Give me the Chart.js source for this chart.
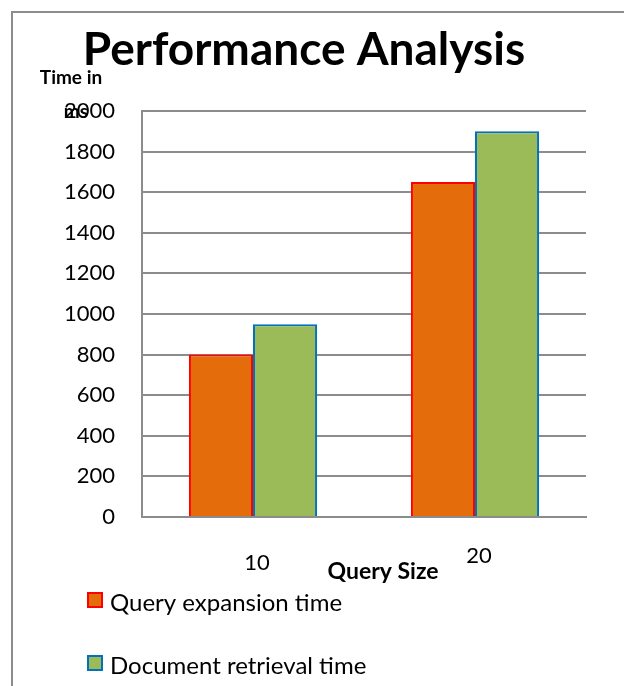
<!DOCTYPE html>
<html>
<head>
<meta charset="utf-8">
<script src="https://cdn.jsdelivr.net/npm/chart.js@4/dist/chart.umd.min.js"></script>
<style>
  html, body { margin: 0; padding: 0; background: #fff; }
  #wrap { position: relative; width: 624px; height: 686px; }
</style>
</head>
<body>
<div id="wrap"><canvas id="c" width="624" height="686"></canvas></div>
<script>
// Query sizes on the x axis
const categories = ['10', '20'];
// Timings in ms
const queryExpansion = [800, 1650];
const documentRetrieval = [950, 1900];
const yTicks = [0, 200, 400, 600, 800, 1000, 1200, 1400, 1600, 1800, 2000];

const chartTitle = 'Performance Analysis';
const yTitle = ['Time in', 'ms'];
const xTitle = 'Query Size';
const seriesNames = ['Query expansion time', 'Document retrieval time'];

const FONT = 'Lato, "Open Sans", sans-serif';

// Frame, headings, staggered category labels and stacked legend
const decorations = {
  id: 'decorations',
  beforeDraw(chart) {
    const ctx = chart.ctx;
    ctx.save();
    ctx.fillStyle = '#fff';
    ctx.fillRect(0, 0, chart.width, chart.height);
    ctx.strokeStyle = '#8c8c8c';
    ctx.lineWidth = 2;
    ctx.beginPath();
    ctx.moveTo(12, chart.height);
    ctx.lineTo(12, 12);
    ctx.lineTo(chart.width, 12);
    ctx.stroke();
    ctx.restore();
  },
  afterDraw(chart) {
    const ctx = chart.ctx;
    const area = chart.chartArea;
    const x = chart.scales.x;
    ctx.save();
    ctx.fillStyle = '#000';
    ctx.textBaseline = 'alphabetic';

    // main title
    ctx.font = 'bold 46px ' + FONT;
    ctx.textAlign = 'center';
    ctx.fillText(chartTitle, 304, 65);

    // value axis title, two horizontal lines
    ctx.font = 'bold 19px ' + FONT;
    ctx.fillText(yTitle[0], 71, 84);
    ctx.fillText(yTitle[1], 76, 118);

    // category labels (second one sits higher)
    ctx.font = '22px ' + FONT;
    const baselines = [53, 46];
    categories.forEach((c, i) => {
      ctx.fillText(c, x.getPixelForValue(i) + 4, area.bottom + baselines[i]);
    });

    // category axis title
    ctx.font = 'bold 23px ' + FONT;
    ctx.fillText(xTitle, 383, area.bottom + 62);

    // legend
    ctx.textAlign = 'left';
    ctx.font = '24px ' + FONT;
    chart.data.datasets.forEach((ds, i) => {
      const top = 593 + i * 63;
      ctx.fillStyle = ds.backgroundColor;
      ctx.fillRect(88, top, 14, 14);
      ctx.strokeStyle = ds.borderColor;
      ctx.lineWidth = 2;
      ctx.strokeRect(88, top, 14, 14);
      ctx.fillStyle = '#000';
      ctx.fillText(seriesNames[i], 110, top + 18);
    });
    ctx.restore();
  }
};

new Chart(document.getElementById('c'), {
  type: 'bar',
  data: {
    labels: categories,
    datasets: [
      {
        label: seriesNames[0],
        data: queryExpansion,
        backgroundColor: '#E46C0A',
        borderColor: '#FF0000',
        borderWidth: 2,
        borderSkipped: 'bottom'
      },
      {
        label: seriesNames[1],
        data: documentRetrieval,
        backgroundColor: '#9BBB59',
        borderColor: '#0070C0',
        borderWidth: 2,
        borderSkipped: 'bottom'
      }
    ]
  },
  options: {
    responsive: false,
    animation: false,
    events: [],
    layout: { padding: { top: 111, right: 38, left: 0, bottom: 0 } },
    plugins: {
      legend: { display: false },
      title: { display: false },
      tooltip: { enabled: false }
    },
    datasets: {
      bar: { categoryPercentage: 0.577, barPercentage: 1.0 }
    },
    scales: {
      x: {
        ticks: { display: false },
        grid: { display: false, drawTicks: false },
        border: { display: true, color: '#8c8c8c', width: 2 },
        afterFit(scale) { scale.height = 169; }
      },
      y: {
        min: 0,
        max: 2000,
        afterBuildTicks(scale) { scale.ticks = yTicks.map(v => ({ value: v })); },
        ticks: {
          color: '#000',
          font: { family: FONT, size: 22 },
          padding: 27,
          callback: v => String(v)
        },
        grid: { color: '#8c8c8c', lineWidth: 2, drawTicks: false },
        border: { display: true, color: '#8c8c8c', width: 2 },
        afterFit(scale) { scale.width = 142; }
      }
    }
  },
  plugins: [decorations]
});
</script>
</body>
</html>
